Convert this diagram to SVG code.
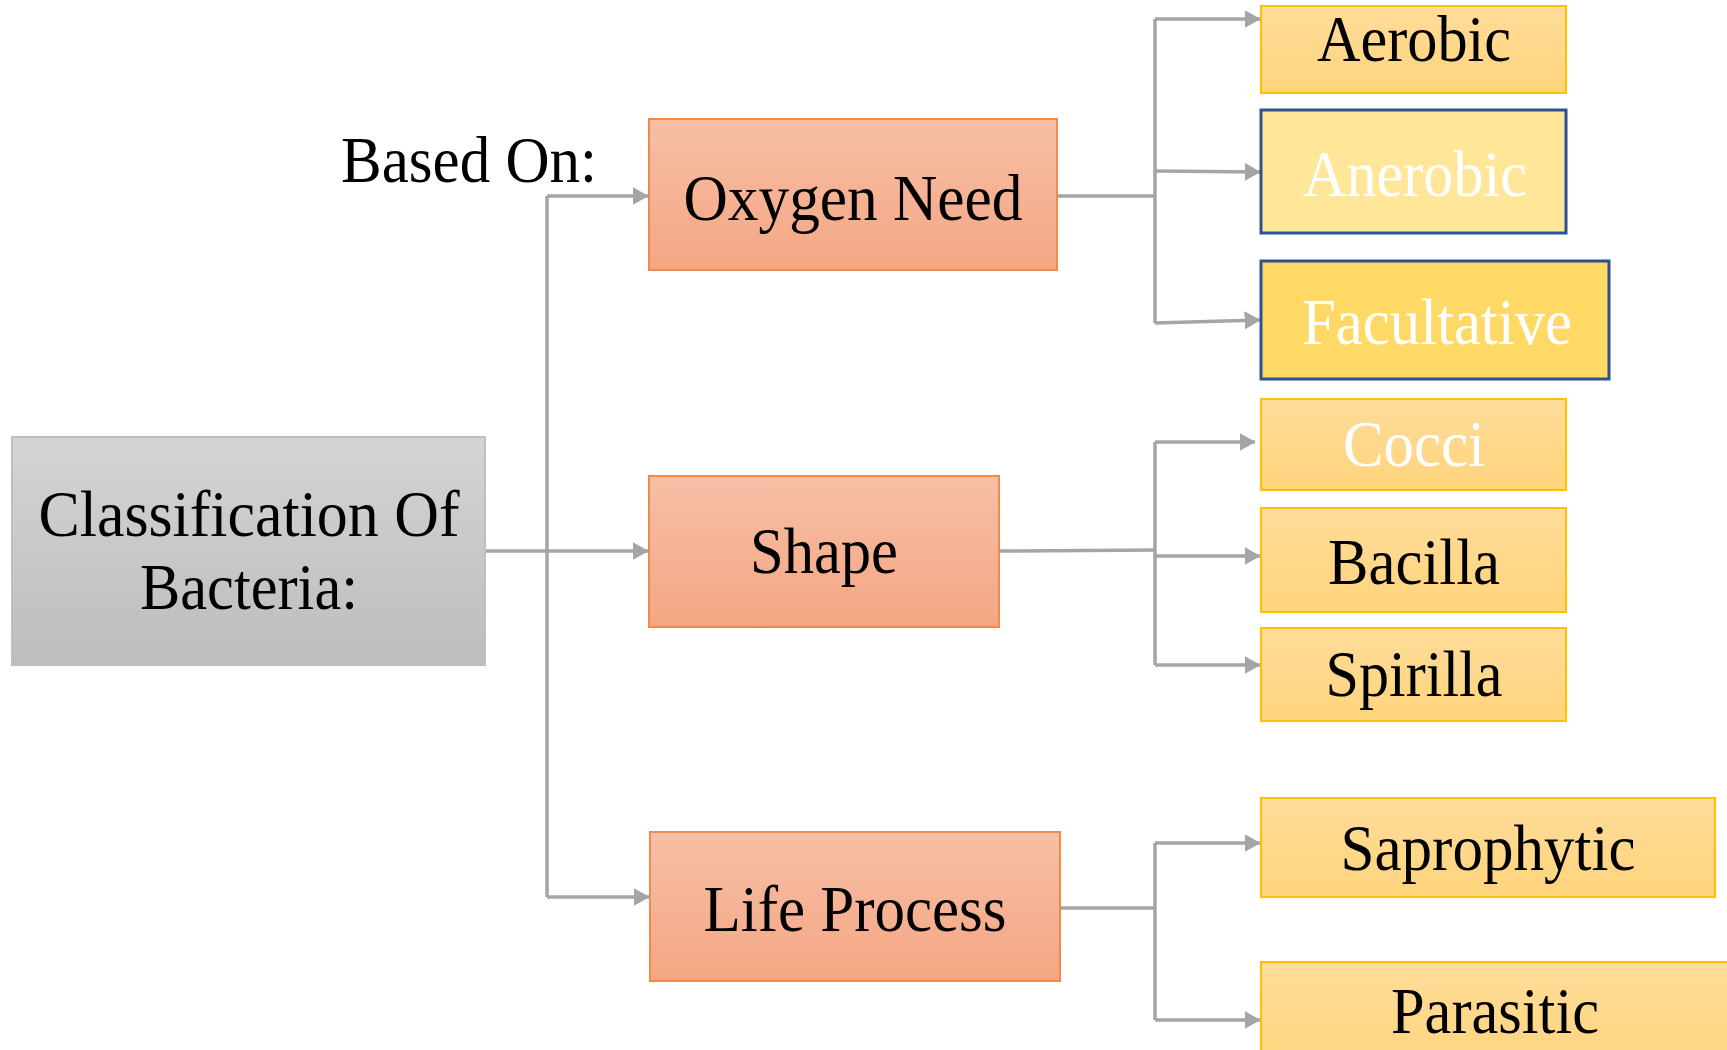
<svg xmlns="http://www.w3.org/2000/svg" width="1727" height="1050" viewBox="0 0 1727 1050">
<defs>
<linearGradient id="gGray" x1="0" y1="0" x2="0" y2="1"><stop offset="0" stop-color="#D4D4D4"/><stop offset="1" stop-color="#BDBDBD"/></linearGradient>
<linearGradient id="gSal" x1="0" y1="0" x2="0" y2="1"><stop offset="0" stop-color="#F7BFA6"/><stop offset="1" stop-color="#F4A683"/></linearGradient>
<linearGradient id="gYel" x1="0" y1="0" x2="0" y2="1"><stop offset="0" stop-color="#FFDC9A"/><stop offset="1" stop-color="#FFD47C"/></linearGradient>
<marker id="arr" markerWidth="4.6" markerHeight="5.2" refX="4.4" refY="2.6" orient="auto" markerUnits="strokeWidth"><path d="M0,0 L4.6,2.6 L0,5.2 Z" fill="#A5A5A5"/></marker>
</defs>
<style>
.t{font-family:"Liberation Serif","Times New Roman",serif;font-size:66px;text-anchor:middle;fill:#000}
.w{fill:#fff}
.gray{fill:url(#gGray);stroke:#BFBFBF;stroke-width:2}
.sal{fill:url(#gSal);stroke:#F08A4B;stroke-width:2}
.yel{fill:url(#gYel);stroke:#FFC000;stroke-width:2}
.conn path{fill:none;stroke:#A5A5A5;stroke-width:3.5}
.conn path.a{marker-end:url(#arr)}
</style>
<rect width="1727" height="1050" fill="#fff"/>
<g class="conn">
<path class="a" d="M485,551 L648,551"/>
<path d="M547,897 L547,196"/>
<path class="a" d="M547,196 L648,196"/>
<path class="a" d="M547,897 L649,897"/>
<path d="M1057,196 L1155,196"/>
<path d="M1155,19 L1155,323"/>
<path class="a" d="M1155,19 L1260,19"/>
<path class="a" d="M1155,171 L1260,172"/>
<path class="a" d="M1155,323 L1260,320"/>
<path d="M999,551 L1155,550"/>
<path d="M1155,442 L1155,665"/>
<path class="a" d="M1155,442 L1255,442"/>
<path class="a" d="M1155,556 L1260,556"/>
<path class="a" d="M1155,665 L1260,665"/>
<path d="M1060,908 L1155,908"/>
<path d="M1155,843 L1155,1020"/>
<path class="a" d="M1155,843 L1260,843"/>
<path class="a" d="M1155,1020 L1260,1020"/>
</g>
<g id="root"><rect class="gray" x="12" y="437" width="473" height="228"/>
<text class="t" x="249" y="536" textLength="421" lengthAdjust="spacingAndGlyphs">Classification Of</text>
<text class="t" x="249" y="609" textLength="218" lengthAdjust="spacingAndGlyphs">Bacteria:</text></g>
<g id="based-on"><text class="t" x="469" y="182" textLength="256" lengthAdjust="spacingAndGlyphs">Based On:</text></g>
<g id="oxygen"><rect class="sal" x="649" y="119" width="408" height="151"/>
<text class="t" x="853" y="220" textLength="339" lengthAdjust="spacingAndGlyphs">Oxygen Need</text></g>
<g id="shape"><rect class="sal" x="649" y="476" width="350" height="151"/>
<text class="t" x="824" y="573" textLength="148" lengthAdjust="spacingAndGlyphs">Shape</text></g>
<g id="life"><rect class="sal" x="650" y="832" width="410" height="149"/>
<text class="t" x="855" y="931" textLength="303" lengthAdjust="spacingAndGlyphs">Life Process</text></g>
<g id="aerobic"><rect class="yel" x="1261" y="6" width="305" height="87"/>
<text class="t" x="1414" y="61" textLength="194" lengthAdjust="spacingAndGlyphs">Aerobic</text></g>
<g id="anerobic"><rect x="1261" y="110" width="305" height="123" fill="#FFE699" stroke="#2F528F" stroke-width="3"/>
<text class="t w" x="1415" y="196" textLength="224" lengthAdjust="spacingAndGlyphs">Anerobic</text></g>
<g id="facultative"><rect x="1261" y="261" width="348" height="118" fill="#FFD966" stroke="#2F528F" stroke-width="3"/>
<text class="t w" x="1437" y="344" textLength="270" lengthAdjust="spacingAndGlyphs">Facultative</text></g>
<g id="cocci"><rect class="yel" x="1261" y="399" width="305" height="91"/>
<text class="t w" x="1414" y="466" textLength="142" lengthAdjust="spacingAndGlyphs">Cocci</text></g>
<g id="bacilla"><rect class="yel" x="1261" y="508" width="305" height="104"/>
<text class="t" x="1414" y="584" textLength="172" lengthAdjust="spacingAndGlyphs">Bacilla</text></g>
<g id="spirilla"><rect class="yel" x="1261" y="628" width="305" height="93"/>
<text class="t" x="1414" y="696" textLength="177" lengthAdjust="spacingAndGlyphs">Spirilla</text></g>
<g id="saprophytic"><rect class="yel" x="1261" y="798" width="454" height="99"/>
<text class="t" x="1488" y="870" textLength="295" lengthAdjust="spacingAndGlyphs">Saprophytic</text></g>
<g id="parasitic"><rect class="yel" x="1261" y="962" width="480" height="110"/>
<text class="t" x="1495" y="1033" textLength="208" lengthAdjust="spacingAndGlyphs">Parasitic</text></g>
</svg>
